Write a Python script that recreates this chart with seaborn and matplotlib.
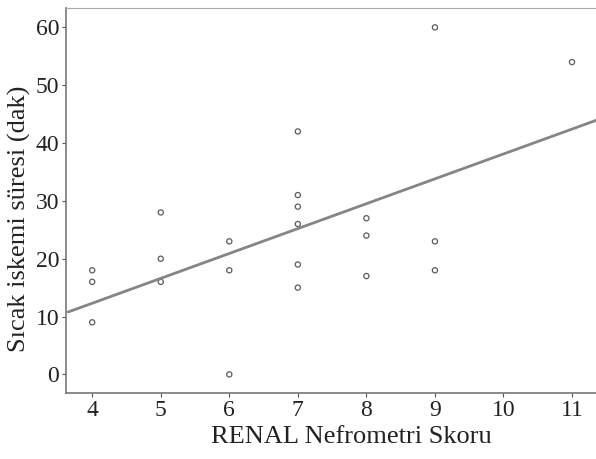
import numpy as np
import pandas as pd
import seaborn as sns
import matplotlib.pyplot as plt

# RENAL score vs warm ischemia time
renal_score = [4, 4, 4, 5, 5, 5, 6, 6, 6, 7, 7, 7, 7, 7, 7, 8, 8, 8, 9, 9, 9, 11]
ischemia_min = [18, 16, 9, 28, 20, 16, 23, 18, 0, 42, 31, 29, 26, 19, 15, 27, 24, 17, 60, 23, 18, 54]
x_ticks = [4, 5, 6, 7, 8, 9, 10, 11]
y_ticks = [0, 10, 20, 30, 40, 50, 60]

df = pd.DataFrame({'renal': renal_score, 'sure': ischemia_min})

sns.set_style('white')
plt.rcParams['font.family'] = ['Liberation Serif', 'DejaVu Serif']

fig, ax = plt.subplots(figsize=(5.96, 4.59), dpi=100)
sns.regplot(data=df, x='renal', y='sure', ax=ax, ci=None, truncate=False,
            scatter_kws=dict(marker='o', s=14, facecolors='none', edgecolors='#333333', linewidths=0.9),
            line_kws=dict(color='#858585', lw=2))

ax.set_xlim(3.62, 11.35)
ax.set_ylim(-3.2, 63.3)
ax.set_xticks(x_ticks)
ax.set_yticks(y_ticks)
ax.tick_params(axis='both', labelsize=17, colors='#555555', length=3, width=0.8,
               direction='out', bottom=True, left=True, pad=2)
for t in ax.get_xticklabels() + ax.get_yticklabels():
    t.set_color('#222222')
ax.set_xlabel('RENAL Nefrometri Skoru', fontsize=19, color='#222222', labelpad=5)
ax.set_ylabel('Sıcak iskemi süresi (dak)', fontsize=19, color='#222222', labelpad=1)
# the original figure is cropped, so the labels sit off-centre
ax.xaxis.set_label_coords(0.538, -0.085)
ax.yaxis.set_label_coords(-0.066, 0.452)

for side in ['left', 'bottom']:
    ax.spines[side].set_color('#777777')
    ax.spines[side].set_linewidth(1.2)
ax.spines['top'].set_color('#aaaaaa')
ax.spines['right'].set_visible(False)

fig.subplots_adjust(left=0.111, right=1.0, bottom=0.144, top=0.982)
fig.savefig('out.png', dpi=100)
